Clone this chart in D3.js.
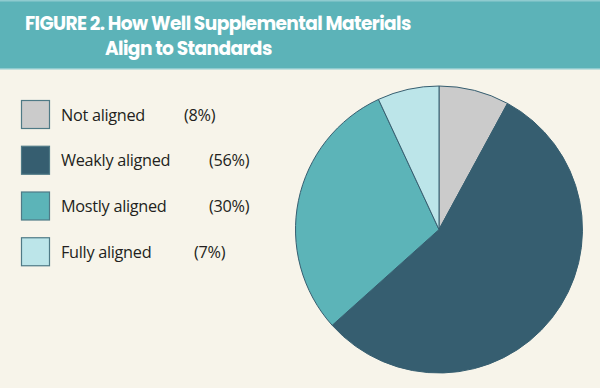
<!DOCTYPE html>
<html><head><meta charset="utf-8">
<script src="https://cdn.jsdelivr.net/npm/d3@7"></script>
<style>html,body{margin:0;padding:0;background:#f7f4ea;}svg{display:block;}</style>
</head><body>
<script>
const categories = ["Not aligned", "Weakly aligned", "Mostly aligned", "Fully aligned"];
const values = [8, 56, 30, 7];
const percentLabels = ["(8%)", "(56%)", "(30%)", "(7%)"];
const colors = ["#cbcbcb", "#365e70", "#5cb4b8", "#bce5e9"];
const titleLines = ["FIGURE 2. How Well Supplemental Materials", "Align to Standards"];

const W = 600, H = 388;
const svg = d3.select("body").append("svg").attr("width", W).attr("height", H);
svg.append("rect").attr("width", W).attr("height", H).attr("fill", "#f7f4ea");

// header band
svg.append("rect").attr("x", 0).attr("y", 0).attr("width", W).attr("height", 69).attr("fill", "#5cb3b8");
svg.append("rect").attr("x", 0).attr("y", 0).attr("width", W).attr("height", 1.5).attr("fill", "#8fcbcf");
svg.append("rect").attr("x", 0).attr("y", 68).attr("width", W).attr("height", 1.5).attr("fill", "#8fcbcf");

const tfont = "Poppins, 'Open Sans', 'DejaVu Sans', sans-serif";
svg.append("text").attr("x", 25).attr("y", 29.5).text(titleLines[0])
  .attr("font-family", tfont).attr("font-weight", 700).attr("font-size", 18.6)
  .attr("fill", "#ffffff").attr("letter-spacing", -0.6);
svg.append("text").attr("x", 105).attr("y", 54.5).text(titleLines[1])
  .attr("font-family", tfont).attr("font-weight", 700).attr("font-size", 18.6)
  .attr("fill", "#ffffff").attr("letter-spacing", -0.6);

// legend
const lfont = "'Open Sans', Lato, sans-serif";
const ly = d3.scaleBand().domain(categories).range([100, 283]).paddingInner(0);
const pctX = [184, 209, 209, 194];
const leg = svg.append("g").selectAll("g").data(categories).join("g")
  .attr("transform", d => `translate(0,${ly(d)})`);
leg.append("rect").attr("x", 21.5).attr("y", 0.5).attr("width", 28).attr("height", 28)
  .attr("fill", (d, i) => colors[i]).attr("stroke", "#4f7a86").attr("stroke-width", 1.2);
leg.append("text").attr("x", 61).attr("y", 20.5).text(d => d)
  .attr("font-family", lfont).attr("font-size", 16.3).attr("fill", "#231f20").attr("letter-spacing", -0.3);
leg.append("text").attr("x", (d, i) => pctX[i]).attr("y", 20.5).text((d, i) => percentLabels[i])
  .attr("font-family", lfont).attr("font-size", 16.3).attr("fill", "#231f20").attr("letter-spacing", -0.3);

// pie
const cx = 439, cy = 229.5, r = 143.5;
const pie = d3.pie().sort(null).value(d => d);
const arc = d3.arc().innerRadius(0).outerRadius(r);
svg.append("g").attr("transform", `translate(${cx},${cy})`)
  .selectAll("path").data(pie(values)).join("path")
  .attr("d", arc).attr("fill", (d, i) => colors[i])
  .attr("stroke", "#365e70").attr("stroke-width", 1).attr("stroke-linejoin", "round");
</script>
</body></html>
